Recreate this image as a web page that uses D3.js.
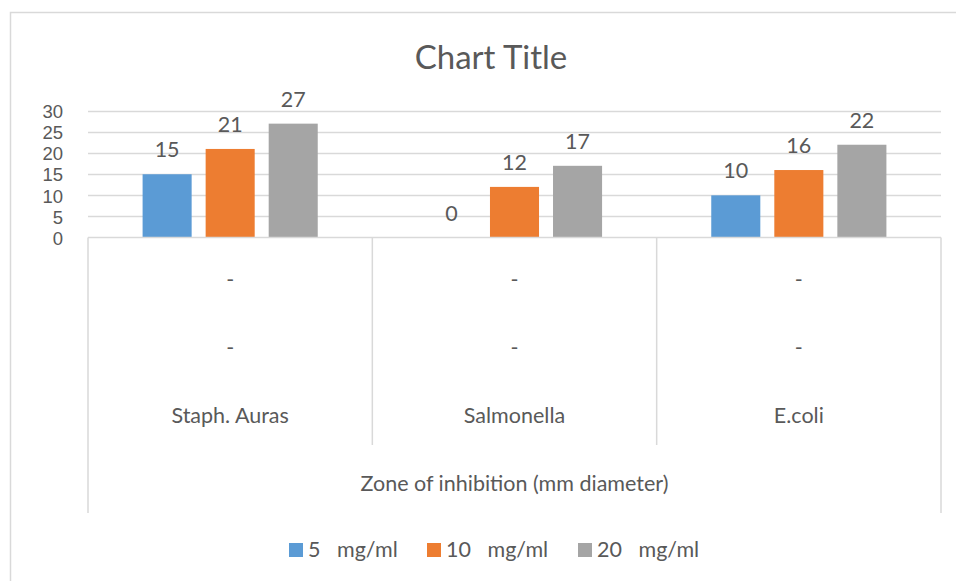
<!DOCTYPE html>
<html>
<head>
<meta charset="utf-8">
<script src="https://cdn.jsdelivr.net/npm/d3@7"></script>
<style>
  html, body { margin: 0; padding: 0; background: #fff; }
  svg { display: block; }
  text { font-family: Lato, "Open Sans", sans-serif; fill: #595959; }
</style>
</head>
<body>
<svg id="chart" width="956" height="581"></svg>
<script>
// ---- data ----
const categories = ["Staph. Auras", "Salmonella", "E.coli"];
const seriesNames = ["5   mg/ml", "10   mg/ml", "20   mg/ml"];
const seriesColors = ["#5b9bd5", "#ed7d31", "#a5a5a5"];
const values5 = [15, 0, 10];
const values10 = [21, 12, 16];
const values20 = [27, 17, 22];
const yTicks = [0, 5, 10, 15, 20, 25, 30];
const subLabels = ["-", "-"];
const chartTitle = "Chart Title";
const axisTitle = "Zone of inhibition (mm diameter)";

const seriesValues = [values5, values10, values20];

(function () {
const svg = d3.select("#chart");
const pL = 88, pR = 941, pT = 111, pB = 237.5;
const FS = "21.5px";

// outer chart border (extends beyond the image on right / bottom)
svg.append("rect")
  .attr("x", 10.5).attr("y", 12.5)
  .attr("width", 1000).attr("height", 700)
  .attr("fill", "none").attr("stroke", "#d9d9d9").attr("stroke-width", 1.5);

// title
svg.append("text").attr("x", 491).attr("y", 69)
  .attr("text-anchor", "middle").style("font-size", "33px")
  .text(chartTitle);

const x0 = d3.scaleBand().domain(categories).range([pL, pR]).paddingInner(0).paddingOuter(0);
const bw = x0.bandwidth();
const x1 = d3.scaleBand().domain(d3.range(seriesNames.length))
  .range([bw * 0.192, bw * 0.808]).paddingInner(0.222).paddingOuter(0);
const y = d3.scaleLinear().domain([0, 30]).range([pB, pT]);

// gridlines
svg.append("g").selectAll("line").data(yTicks.filter(d => d > 0)).join("line")
  .attr("x1", pL).attr("x2", pR)
  .attr("y1", d => Math.round(y(d)) + 0.5).attr("y2", d => Math.round(y(d)) + 0.5)
  .attr("stroke", "#d9d9d9").attr("stroke-width", 1.5);

// y axis labels
const yAxis = d3.axisLeft(y).tickValues(yTicks).tickSize(0).tickPadding(0);
const ya = svg.append("g").attr("transform", `translate(63,0)`).call(yAxis);
ya.select(".domain").remove();
ya.selectAll("text").style("font-size", "18.5px").style("font-family", "'Liberation Sans', Arial, sans-serif")
  .attr("fill", "#595959").attr("dy", "0.36em");

// bars
const rows = categories.map((c, i) => ({ c, vals: seriesValues.map(s => s[i]) }));
const g = svg.append("g");
const groups = g.selectAll("g").data(rows).join("g")
  .attr("transform", d => `translate(${x0(d.c)},0)`);
groups.selectAll("rect").data(d => d.vals.map((v, k) => ({ v, k }))).join("rect")
  .attr("x", d => x1(d.k)).attr("width", x1.bandwidth())
  .attr("y", d => y(d.v)).attr("height", d => y(0) - y(d.v))
  .attr("fill", d => seriesColors[d.k]);
groups.selectAll("text.lbl").data(d => d.vals.map((v, k) => ({ v, k }))).join("text")
  .attr("class", "lbl")
  .attr("x", d => x1(d.k) + x1.bandwidth() / 2)
  .attr("y", d => y(d.v) - 17)
  .attr("text-anchor", "middle").style("font-size", FS)
  .text(d => d.v);

// axis lines and category dividers
const axisG = svg.append("g").attr("stroke", "#d9d9d9").attr("stroke-width", 1.5);
axisG.append("line").attr("x1", pL).attr("x2", pR).attr("y1", pB).attr("y2", pB);
axisG.append("line").attr("x1", pL).attr("x2", pL).attr("y1", pB).attr("y2", 513);
axisG.append("line").attr("x1", pR).attr("x2", pR).attr("y1", pB).attr("y2", 513);
axisG.selectAll("line.div").data(categories.slice(1)).join("line").attr("class", "div")
  .attr("x1", d => x0(d)).attr("x2", d => x0(d)).attr("y1", pB).attr("y2", 445);

// multi-level labels
const subY = [287, 355];
categories.forEach(c => {
  const cx = x0(c) + bw / 2;
  subLabels.forEach((s, j) => {
    svg.append("text").attr("x", cx).attr("y", subY[j]).attr("text-anchor", "middle")
      .style("font-size", FS).text(s);
  });
  svg.append("text").attr("x", cx).attr("y", 423).attr("text-anchor", "middle")
    .style("font-size", FS).text(c);
});

svg.append("text").attr("x", (pL + pR) / 2).attr("y", 491).attr("text-anchor", "middle")
  .style("font-size", FS).text(axisTitle);

// legend
const legX = [289, 427, 578];
const leg = svg.append("g");
seriesNames.forEach((n, i) => {
  leg.append("rect").attr("x", legX[i]).attr("y", 543).attr("width", 14).attr("height", 14)
    .attr("fill", seriesColors[i]);
  leg.append("text").attr("x", legX[i] + 19).attr("y", 557).style("font-size", FS)
    .style("white-space", "pre").attr("xml:space", "preserve").text(n);
});
})();
</script>
</body>
</html>
